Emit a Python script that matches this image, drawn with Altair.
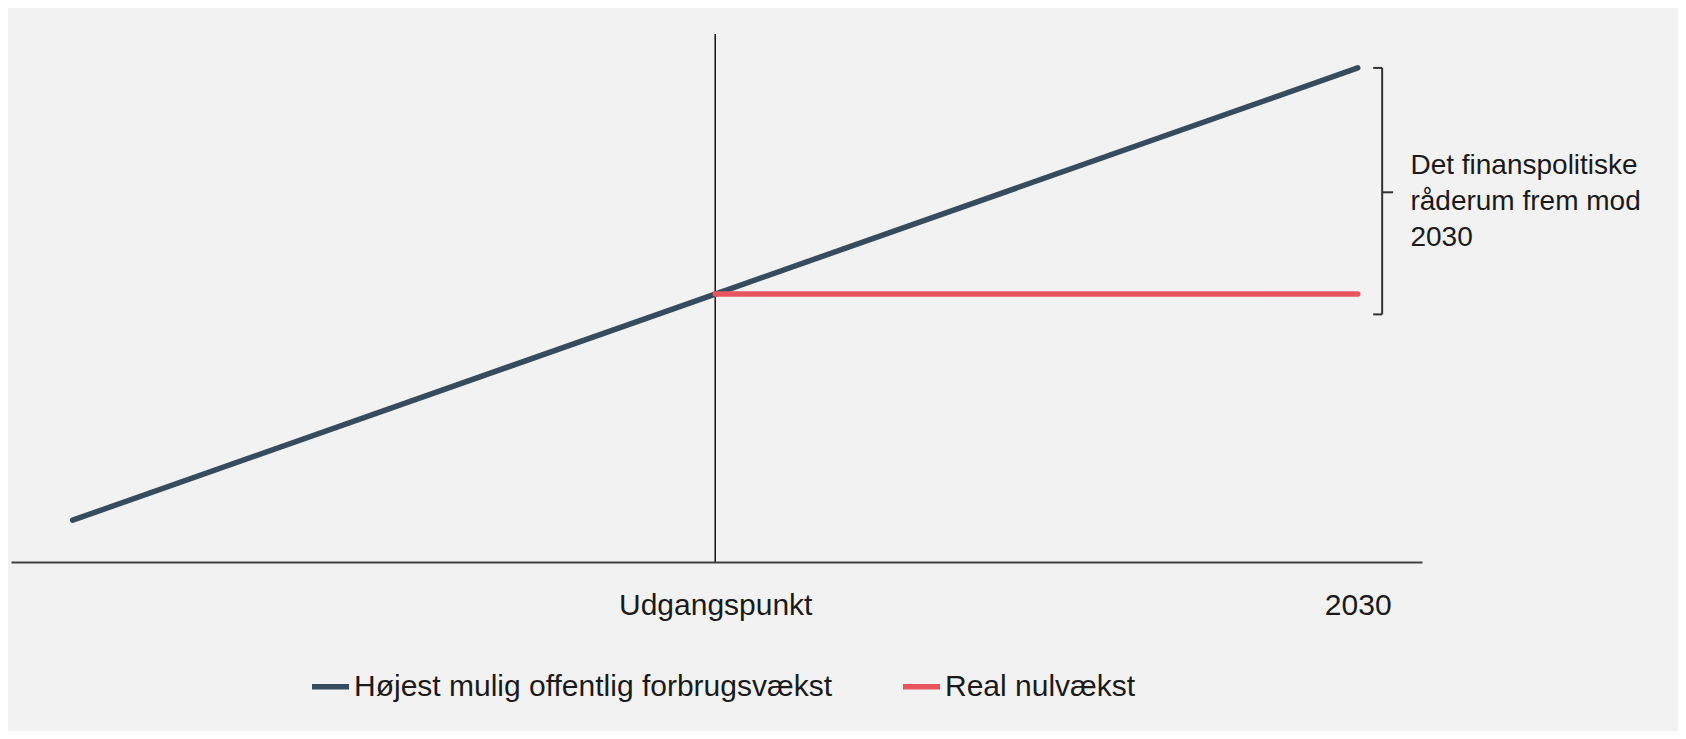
import altair as alt
import pandas as pd

# ---- data ----
periods = [-1, 0, 1]                 # -1 = before, 0 = Udgangspunkt, 1 = 2030
hojest = [80, 100, 120]              # Højest mulig offentlig forbrugsvækst
real_periods = [0, 1]
real = [100, 100]                    # Real nulvækst
series_names = ["Højest mulig offentlig forbrugsvækst", "Real nulvækst"]
series_colors = ["#364b5d", "#e8555f"]
tick_values = [0, 1]
tick_labels = ["Udgangspunkt", "2030"]

# bracket annotation (data units)
bracket_x = [1.024, 1.038, 1.055]
bracket_top = [120]
bracket_bottom = [98.2]
bracket_mid = [109]
note_lines = ["Det finanspolitiske", "råderum frem mod", "2030"]
note_x = [1.082]
note_y = [110.6]

FONT = "Liberation Sans"

rows = [{"x": x, "v": v, "series": series_names[0]} for x, v in zip(periods, hojest)]
rows += [{"x": x, "v": v, "series": series_names[1]} for x, v in zip(real_periods, real)]
df = pd.DataFrame(rows)

xs = alt.Scale(domain=[-1.096, 1.1], nice=False, zero=False)
ys = alt.Scale(domain=[76.3, 123.0], nice=False, zero=False)

label_expr = " : ".join(
    f"datum.value == {v} ? '{l}'" for v, l in zip(tick_values, tick_labels)
) + " : ''"

vline = alt.Chart(pd.DataFrame({"x": [0]})).mark_rule(color="#111111", strokeWidth=1.5).encode(
    x=alt.X("x:Q", scale=xs,
            axis=alt.Axis(values=tick_values, labelExpr=label_expr, title=None, grid=False,
                          ticks=False, tickSize=0, labelPadding=28, labelFontSize=30,
                          labelFont=FONT, labelColor="#1a1a1a", domainColor="#404040",
                          domainWidth=2, labelFlush=False, labelLimit=800,
                          labelOverlap=False))
)

lines = alt.Chart(df).mark_line(strokeWidth=5.5, strokeCap="round").encode(
    x=alt.X("x:Q", scale=xs),
    y=alt.Y("v:Q", scale=ys, axis=None),
    color=alt.Color("series:N",
                    scale=alt.Scale(domain=series_names, range=series_colors),
                    sort=series_names,
                    legend=alt.Legend(orient="none", legendX=298, legendY=631,
                                      direction="horizontal", title=None,
                                      symbolType="stroke", symbolSize=1369,
                                      symbolStrokeWidth=5.5, labelFontSize=30,
                                      labelFont=FONT, labelColor="#1a1a1a",
                                      labelLimit=800, labelOffset=2,
                                      columnPadding=60)),
)

bdf = pd.DataFrame({
    "x1": [bracket_x[1], bracket_x[0], bracket_x[0], bracket_x[1]],
    "x2": [bracket_x[1], bracket_x[1], bracket_x[1], bracket_x[2]],
    "y1": [bracket_top[0], bracket_top[0], bracket_bottom[0], bracket_mid[0]],
    "y2": [bracket_bottom[0], bracket_top[0], bracket_bottom[0], bracket_mid[0]],
})
bracket = alt.Chart(bdf).mark_rule(color="#333333", strokeWidth=2).encode(
    x=alt.X("x1:Q", scale=xs), x2="x2:Q",
    y=alt.Y("y1:Q", scale=ys), y2="y2:Q",
)

note = alt.Chart(pd.DataFrame({"x": note_x, "y": note_y, "t": [note_lines]})).mark_text(
    align="left", baseline="alphabetic", fontSize=28, font=FONT, color="#1a1a1a", lineHeight=36
).encode(
    x=alt.X("x:Q", scale=xs), y=alt.Y("y:Q", scale=ys), text="t"
)

chart = alt.layer(vline, lines, bracket, note).properties(
    width=1411, height=528,
    autosize=alt.AutoSizeParams(type="none"),
    padding={"left": 3, "top": 26, "right": 256, "bottom": 169},
    background="#f2f2f2",
).configure_view(stroke=None)

chart.save("out.html", embed_options={"renderer": "svg", "actions": False})
